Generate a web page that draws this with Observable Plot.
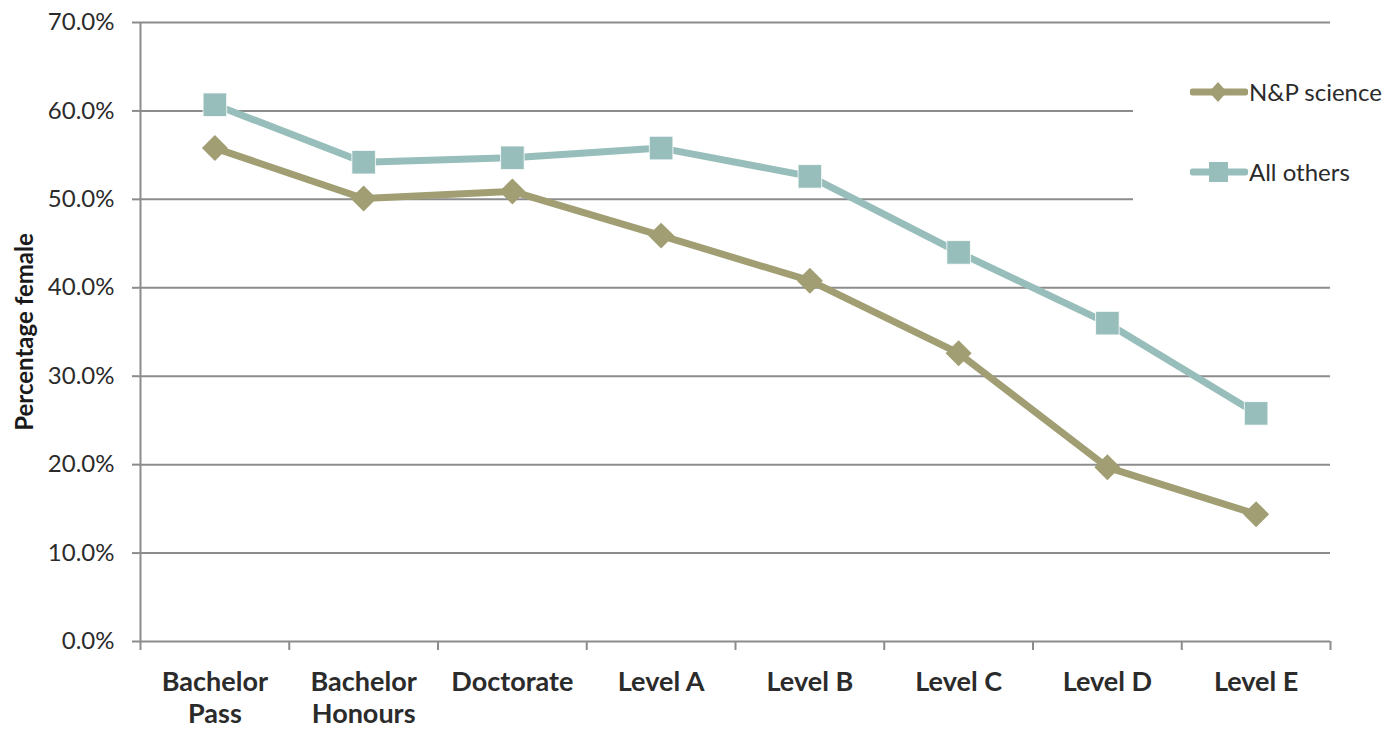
<!DOCTYPE html>
<html>
<head>
<meta charset="utf-8">
<script src="https://cdn.jsdelivr.net/npm/d3@7"></script>
<script src="https://cdn.jsdelivr.net/npm/@observablehq/plot@0.6"></script>
<style>
  html, body { margin: 0; padding: 0; background: #fff; }
  #wrap { position: relative; width: 1388px; height: 733px; font-family: Lato, "Open Sans", sans-serif; }
  #legend { position: absolute; left: 1133px; top: 66px; width: 255px; height: 146px; background: #fff; }
  .item { position: absolute; left: 57px; display: flex; align-items: center; font-size: 24px; color: #2b2b2b; white-space: nowrap; }
  .item svg { margin-right: 1px; }
</style>
</head>
<body>
<div id="wrap"></div>
<script>
const categories = ["Bachelor\nPass", "Bachelor\nHonours", "Doctorate", "Level A", "Level B", "Level C", "Level D", "Level E"];
const seriesNames = ["N&P science", "All others"];
const npScience = [55.8, 50.1, 50.9, 45.9, 40.8, 32.6, 19.7, 14.4];
const allOthers = [60.7, 54.2, 54.7, 55.8, 52.6, 44.0, 36.0, 25.8];
const yTicks = [0, 10, 20, 30, 40, 50, 60, 70];
const colors = {"N&P science": "#a19e73", "All others": "#97bebb"};

const rows = [];
categories.forEach((c, i) => {
  rows.push({i, series: "N&P science", value: npScience[i] / 100});
  rows.push({i, series: "All others", value: allOthers[i] / 100});
});
const np = rows.filter(d => d.series === "N&P science");
const ao = rows.filter(d => d.series === "All others");
const idx = d3.range(categories.length);
const bounds = d3.range(categories.length + 1).map(k => k - 0.5);
const gridColor = "#8c8c8c";

const chart = Plot.plot({
  width: 1388,
  height: 733,
  marginLeft: 140,
  marginRight: 58,
  marginTop: 22,
  marginBottom: 92,
  style: {fontFamily: "Lato, 'Open Sans', sans-serif", background: "#fff"},
  x: {type: "linear", domain: [-0.5, categories.length - 0.5]},
  y: {domain: [0, 0.7]},
  marks: [
    Plot.gridY(yTicks.map(v => v / 100), {stroke: gridColor, strokeOpacity: 1, strokeWidth: 2}),
    Plot.ruleX([-0.5], {stroke: gridColor, strokeWidth: 2}),
    Plot.axisY(yTicks.map(v => v / 100), {
      tickFormat: d => (d * 100).toFixed(1) + "%",
      tickSize: 8, tickPadding: 18, stroke: gridColor, strokeWidth: 2,
      fontSize: 24, fill: "#2b2b2b", label: null
    }),
    Plot.axisX(bounds, {tickSize: 9, tickFormat: () => "", stroke: gridColor, strokeWidth: 2, label: null}),
    Plot.axisX(idx, {
      tickSize: 0, tickPadding: 26, tickFormat: i => categories[i],
      fontSize: 27, fontWeight: "bold", fill: "#2b2b2b", label: null, lineHeight: 1.2
    }),
    Plot.text(["Percentage female"], {
      frameAnchor: "left", rotate: -90, dx: -115, text: d => d, textAnchor: "middle",
      fontSize: 24, fontWeight: "bold", fill: "#1a1a1a"
    }),
    Plot.line(ao, {x: "i", y: "value", stroke: colors["All others"], strokeWidth: 7}),
    Plot.dot(ao, {x: "i", y: "value", symbol: "square", r: 13.3, fill: colors["All others"], stroke: "#fff", strokeWidth: 0.8}),
    Plot.line(np, {x: "i", y: "value", stroke: colors["N&P science"], strokeWidth: 7}),
    Plot.dot(np, {x: "i", y: "value", symbol: "diamond2", r: 11.7, fill: colors["N&P science"], stroke: "none"})
  ]
});

const wrap = document.getElementById("wrap");
wrap.appendChild(chart);

const legend = document.createElement("div");
legend.id = "legend";
const tops = [11, 91];
seriesNames.forEach((name, k) => {
  const item = document.createElement("div");
  item.className = "item";
  item.style.top = tops[k] + "px";
  const marker = name === "N&P science"
    ? `<path d="M28,3 L37,13 L28,23 L19,13 Z" fill="${colors[name]}"/>`
    : `<rect x="19" y="3" width="19" height="20" fill="${colors[name]}"/>`;
  item.innerHTML = `<svg width="58" height="26"><line x1="3" y1="13" x2="55" y2="13" stroke="${colors[name]}" stroke-width="7" stroke-linecap="round"/>${marker}</svg><span>${name}</span>`;
  legend.appendChild(item);
});
wrap.appendChild(legend);
</script>
</body>
</html>
